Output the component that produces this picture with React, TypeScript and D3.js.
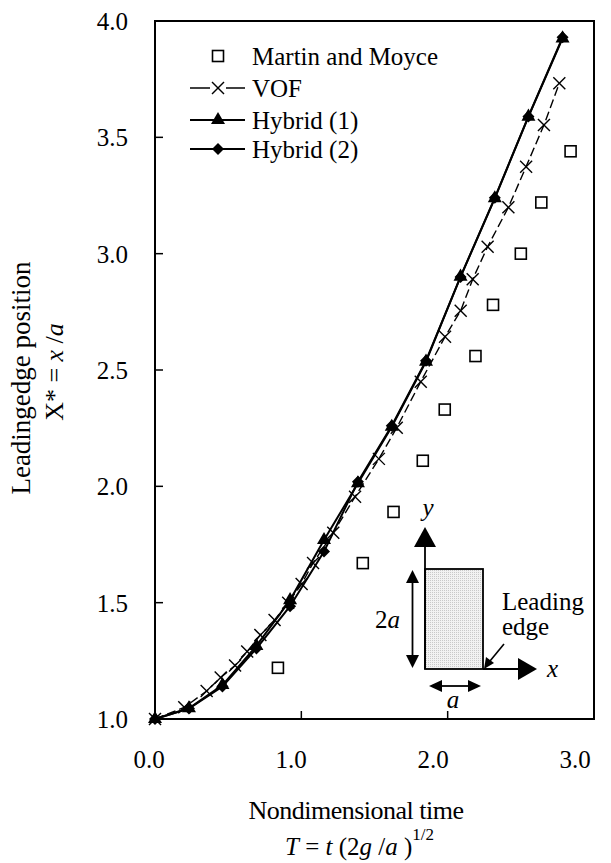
import React from 'react';
import * as d3 from 'd3';

const xTicks = [0, 1, 2, 3];
const yTicks = [1.0, 1.5, 2.0, 2.5, 3.0, 3.5, 4.0];

const mmT = [0.84, 1.42, 1.63, 1.83, 1.98, 2.19, 2.31, 2.5, 2.64, 2.84];
const mmX = [1.22, 1.67, 1.89, 2.11, 2.33, 2.56, 2.78, 3.0, 3.22, 3.44];

const vofT = [0, 0.2, 0.353, 0.449, 0.547, 0.63, 0.72, 0.817, 0.91, 1.002, 1.08, 1.218, 1.367, 1.53, 1.652, 1.816, 1.982, 2.089, 2.171, 2.273, 2.415, 2.536, 2.658, 2.763];
const vofX = [1.0, 1.05, 1.12, 1.178, 1.23, 1.29, 1.361, 1.425, 1.5, 1.58, 1.67, 1.8, 1.955, 2.118, 2.252, 2.45, 2.643, 2.755, 2.89, 3.03, 3.199, 3.374, 3.553, 3.732];

const hybT = [0, 0.232, 0.461, 0.693, 0.923, 1.155, 1.387, 1.618, 1.852, 2.088, 2.322, 2.552, 2.785];
const hyb1X = [1.0, 1.046, 1.146, 1.314, 1.511, 1.769, 2.013, 2.256, 2.536, 2.901, 3.238, 3.589, 3.925];
const hyb2X = [1.0, 1.045, 1.14, 1.303, 1.485, 1.72, 2.02, 2.26, 2.54, 2.9, 3.24, 3.59, 3.93];

const legendLabels = ['Martin and Moyce', 'VOF', 'Hybrid (1)', 'Hybrid (2)'];

const FONT = "'Liberation Serif', 'DejaVu Serif', serif";

export default function App() {
  const W = 611, H = 863;
  const x = d3.scaleLinear().domain([0, 3]).range([155, 594]);
  const y = d3.scaleLinear().domain([1, 4]).range([719, 21]);
  const xLab = d3.scaleLinear().domain([0, 3]).range([149, 575]);

  const line = d3.line<[number, number]>().x(d => x(d[0])).y(d => y(d[1]));
  const vof = vofT.map((t, i) => [t, vofX[i]] as [number, number]);
  const h1 = hybT.map((t, i) => [t, hyb1X[i]] as [number, number]);
  const h2 = hybT.map((t, i) => [t, hyb2X[i]] as [number, number]);
  const mm = mmT.map((t, i) => [t, mmX[i]] as [number, number]);

  const tri = d3.symbol(d3.symbolTriangle, 85)()!;
  const dia = 'M0,-6L6,0L0,6L-6,0Z';
  const cross = (cx: number, cy: number, k: string | number) => (
    <g key={k} stroke="#000" strokeWidth={1.4}>
      <line x1={cx - 6} y1={cy - 6} x2={cx + 6} y2={cy + 6} />
      <line x1={cx - 6} y1={cy + 6} x2={cx + 6} y2={cy - 6} />
    </g>
  );
  const square = (cx: number, cy: number, k: string | number) => (
    <rect key={k} x={cx - 5.5} y={cy - 5.5} width={11} height={11} fill="#fff" stroke="#000" strokeWidth={1.6} />
  );

  const legendY = [56, 88, 120, 149];
  const lx0 = 190, lx1 = 245, lm = 218, ltx = 252;
  const ts: React.CSSProperties = { fontFamily: FONT };

  return (
    <svg width={W} height={H} style={{ position: 'absolute', left: 0, top: 0, background: '#fff', fontFamily: FONT }}>
      <defs>
        <pattern id="dots" width="2" height="2" patternUnits="userSpaceOnUse">
          <rect width="2" height="2" fill="#f2f2f2" />
          <rect width="1" height="1" fill="#c9c9c9" />
        </pattern>
      </defs>
      <rect width={W} height={H} fill="#fff" />

      {/* Frame */}
      <rect x={x(0)} y={y(4)} width={x(3) - x(0)} height={y(1) - y(4)} fill="none" stroke="#000" strokeWidth={2} />

      {/* ticks */}
      {yTicks.map(v => (
        <line key={'yt' + v} x1={x(0)} x2={x(0) + 8} y1={y(v)} y2={y(v)} stroke="#000" strokeWidth={1.5} />
      ))}
      {xTicks.map(v => (
        <line key={'xt' + v} x1={x(v)} x2={x(v)} y1={y(1)} y2={y(1) - 8} stroke="#000" strokeWidth={1.5} />
      ))}
      {yTicks.map(v => (
        <text key={'yl' + v} style={ts} x={128} y={y(v) + 9} fontSize={25} textAnchor="end">{v.toFixed(1)}</text>
      ))}
      {xTicks.map(v => (
        <text key={'xl' + v} style={ts} x={xLab(v)} y={768} fontSize={25} textAnchor="middle">{v.toFixed(1)}</text>
      ))}

      {/* Axis titles */}
      <text style={ts} x={356} y={819} fontSize={26} textAnchor="middle" letterSpacing={-0.5}>Nondimensional time</text>
      <text style={ts} x={285} y={855} fontSize={25}>
        <tspan fontStyle="italic">T</tspan>
        <tspan> = </tspan>
        <tspan fontStyle="italic">t</tspan>
        <tspan> (2</tspan>
        <tspan fontStyle="italic">g</tspan>
        <tspan> /</tspan>
        <tspan fontStyle="italic">a</tspan>
        <tspan> )</tspan>
        <tspan fontSize={17} dy={-15}>1/2</tspan>
      </text>
      <text style={ts} transform="translate(30,378) rotate(-90)" fontSize={27} textAnchor="middle">Leadingedge position</text>
      <text style={ts} transform="translate(63,372) rotate(-90)" fontSize={26} textAnchor="middle">
        <tspan>X* = </tspan>
        <tspan fontStyle="italic">x</tspan>
        <tspan> /</tspan>
        <tspan fontStyle="italic">a</tspan>
      </text>

      {/* Data lines */}
      <path d={line(vof)!} fill="none" stroke="#000" strokeWidth={1.4} strokeDasharray="9,4" />
      <path d={line(h2)!} fill="none" stroke="#000" strokeWidth={2} />
      <path d={line(h1)!} fill="none" stroke="#000" strokeWidth={2} />

      {/* markers */}
      {mm.map((d, i) => square(x(d[0]), y(d[1]), 'mm' + i))}
      {vof.map((d, i) => cross(x(d[0]), y(d[1]), 'v' + i))}
      {h2.map((d, i) => <path key={'d' + i} d={dia} transform={`translate(${x(d[0])},${y(d[1])})`} fill="#000" />)}
      {h1.map((d, i) => <path key={'t' + i} d={tri} transform={`translate(${x(d[0])},${y(d[1])})`} fill="#000" />)}

      {/* Legend */}
      {square(lm, legendY[0], 'lg0')}
      <line x1={lx0} x2={lm - 8} y1={legendY[1]} y2={legendY[1]} stroke="#000" strokeWidth={1.5} />
      <line x1={lm + 8} x2={lx1} y1={legendY[1]} y2={legendY[1]} stroke="#000" strokeWidth={1.5} />
      {cross(lm, legendY[1], 'lg1')}
      <line x1={lx0} x2={lx1} y1={legendY[2]} y2={legendY[2]} stroke="#000" strokeWidth={2} />
      <path d={tri} transform={`translate(${lm},${legendY[2]})`} fill="#000" />
      <line x1={lx0} x2={lx1} y1={legendY[3]} y2={legendY[3]} stroke="#000" strokeWidth={2} />
      <path d={dia} transform={`translate(${lm},${legendY[3]})`} fill="#000" />
      {legendLabels.map((s, i) => (
        <text key={'lt' + i} style={ts} x={ltx} y={legendY[i] + 9} fontSize={25}>{s}</text>
      ))}

      {/* Inset diagram */}
      <g stroke="#000" fill="#000">
        <rect x={425} y={569} width={58} height={100} fill="url(#dots)" strokeWidth={1.8} />
        <line x1={425} y1={669} x2={425} y2={545} strokeWidth={1.8} />
        <polygon points="425,527 414,547 436,547" stroke="none" />
        <line x1={483} y1={669} x2={520} y2={669} strokeWidth={1.8} />
        <polygon points="537,669 518,658 518,680" stroke="none" />
        <line x1={412.5} y1={580} x2={412.5} y2={658} strokeWidth={1.8} />
        <polygon points="412.5,570 406,583 419,583" stroke="none" />
        <polygon points="412.5,668 406,655 419,655" stroke="none" />
        <line x1={440} y1={686} x2={470} y2={686} strokeWidth={1.8} />
        <polygon points="429,686 442,680 442,692" stroke="none" />
        <polygon points="481,686 468,680 468,692" stroke="none" />
        <line x1={504} y1={644} x2={490} y2={661} strokeWidth={1.6} />
        <polygon points="484,669 486,657 494,663" stroke="none" />
      </g>
      <text style={ts} x={428} y={516} fontSize={25} fontStyle="italic" textAnchor="middle">y</text>
      <text style={ts} x={547} y={677} fontSize={25} fontStyle="italic">x</text>
      <text style={ts} x={453} y={708} fontSize={25} fontStyle="italic" textAnchor="middle">a</text>
      <text style={ts} x={400} y={628} fontSize={25} textAnchor="end">2<tspan fontStyle="italic">a</tspan></text>
      <text style={ts} x={502} y={610} fontSize={25}>Leading</text>
      <text style={ts} x={502} y={635} fontSize={25}>edge</text>
    </svg>
  );
}
